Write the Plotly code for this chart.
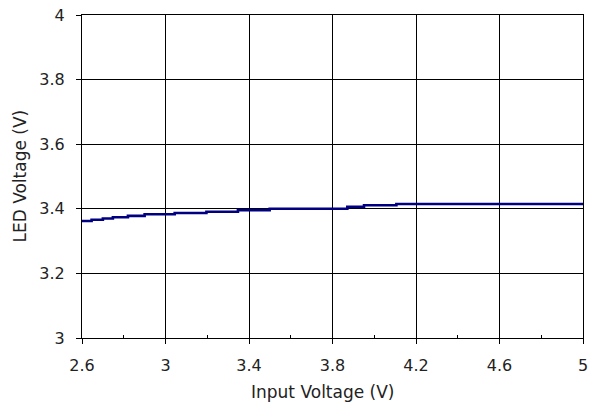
import plotly.graph_objects as go

input_voltage = [2.6, 2.646, 2.70, 2.748, 2.82, 2.90, 3.044, 3.196, 3.347, 3.499, 3.871, 3.951, 4.106, 5.0]
led_voltage = [3.362, 3.366, 3.370, 3.374, 3.378, 3.383, 3.387, 3.391, 3.396, 3.400, 3.406, 3.411, 3.415, 3.415]

x_ticks = [2.6, 3.0, 3.4, 3.8, 4.2, 4.6, 5.0]
x_tick_labels = ["2.6", "3", "3.4", "3.8", "4.2", "4.6", "5"]
y_ticks = [3.0, 3.2, 3.4, 3.6, 3.8, 4.0]
y_tick_labels = ["3", "3.2", "3.4", "3.6", "3.8", "4"]
x_title = "Input Voltage (V)"
y_title = "LED Voltage (V)"

fig = go.Figure()
fig.add_trace(go.Scatter(
    x=input_voltage, y=led_voltage, mode="lines",
    line=dict(color="#000080", width=2.6, shape="hv"),
    showlegend=False,
))

font = dict(family="DejaVu Sans, Liberation Sans, sans-serif", size=16, color="#222222")
title_font = dict(family="DejaVu Sans, Liberation Sans, sans-serif", size=17, color="#222222")

fig.update_layout(
    width=596, height=405,
    margin=dict(l=82, r=13, t=15, b=67),
    paper_bgcolor="white", plot_bgcolor="white",
    font=font,
    xaxis=dict(
        range=[2.6, 5.0], tickvals=x_ticks, ticktext=x_tick_labels,
        automargin=False,
        showgrid=True, gridcolor="#000000", gridwidth=1,
        showline=True, linecolor="#000000", linewidth=1, mirror=True,
        ticks="outside", ticklen=5, tickcolor="#000000",
        ticklabelstandoff=8,
        minor=dict(tickvals=[2.8, 3.2, 3.6, 4.0, 4.4, 4.8], ticks="inside", ticklen=3, tickcolor="#000000", showgrid=False),
        zeroline=False,
    ),
    yaxis=dict(
        range=[3.0, 4.0], tickvals=y_ticks, ticktext=y_tick_labels,
        automargin=False,
        showgrid=True, gridcolor="#000000", gridwidth=1,
        showline=True, linecolor="#000000", linewidth=1, mirror=True,
        ticks="outside", ticklen=5, tickcolor="#000000",
        ticklabelstandoff=8,
        zeroline=False,
    ),
    annotations=[
        dict(text=x_title, xref="paper", yref="paper", x=0.481, y=-0.167,
             xanchor="center", yanchor="middle", showarrow=False, font=title_font),
        dict(text=y_title, xref="paper", yref="paper", x=-0.1257, y=0.5, textangle=-90,
             xanchor="center", yanchor="middle", showarrow=False, font=title_font),
    ],
)

fig.write_html("out.html", config={"displayModeBar": False},
               post_script="document.body.style.margin='0';")
